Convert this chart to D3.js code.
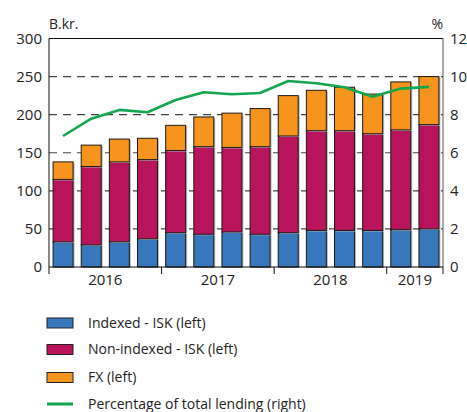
<!DOCTYPE html>
<html>
<head>
<meta charset="utf-8">
<script src="https://cdn.jsdelivr.net/npm/d3@7"></script>
<style>
  body { margin: 0; background: #fff; }
  text { font-family: "Open Sans", sans-serif; fill: #222; }
</style>
</head>
<body>
<div id="chart"></div>
<script>
// quarters 2016Q1 - 2019Q2
const quarters = ["2016Q1","2016Q2","2016Q3","2016Q4","2017Q1","2017Q2","2017Q3","2017Q4",
                  "2018Q1","2018Q2","2018Q3","2018Q4","2019Q1","2019Q2"]
const years = ["2016", "2017", "2018", "2019"]

// stacked values, b.kr.
const indexed    = [33, 29, 33, 37, 45, 43, 46, 43, 45, 48, 48, 48, 49, 50]
const nonIndexed = [82, 103, 105, 104, 108, 115, 111, 115, 127, 131, 131, 127, 131, 137]
const fx         = [23, 28, 30, 28, 33, 39, 45, 50, 53, 53, 57, 52, 63, 63]

// % of total lending, right axis
const pct = [6.88, 7.79, 8.25, 8.13, 8.77, 9.18, 9.07, 9.14, 9.77, 9.65, 9.44, 8.94, 9.37, 9.46]

const leftTicks = [0, 50, 100, 150, 200, 250, 300]
const rightTicks = [0, 2, 4, 6, 8, 10, 12]

const series = [
    { key: "indexed", label: "Indexed - ISK (left)", color: "#3777bc", values: indexed },
    { key: "nonIndexed", label: "Non-indexed - ISK (left)", color: "#b8135b", values: nonIndexed },
    { key: "fx", label: "FX (left)", color: "#f7941e", values: fx }
]
const lineLabel = "Percentage of total lending (right)"
const lineColor = "#12a64e"

const W = 467, H = 412
const margin = { top: 38.5, right: 24, bottom: 145, left: 49 }
const width = W - margin.left - margin.right
const height = H - margin.top - margin.bottom

const svg = d3.select("#chart").append("svg")
    .attr("width", W).attr("height", H)

const g = svg.append("g").attr("transform", `translate(${margin.left},${margin.top})`)

const x = d3.scaleBand().domain(quarters).range([0, width]).paddingInner(0.29).paddingOuter(0.145)
const yL = d3.scaleLinear().domain([0, 300]).range([height, 0])
const yR = d3.scaleLinear().domain([0, 12]).range([height, 0])

// dashed gridlines behind bars
g.append("g").selectAll("line")
    .data(leftTicks.filter(d => d > 0 && d < 300))
    .join("line")
    .attr("x1", 0).attr("x2", width)
    .attr("y1", d => yL(d)).attr("y2", d => yL(d))
    .attr("stroke", "#444").attr("stroke-width", 1.2)
    .attr("stroke-dasharray", "8 6")

// stack it
const rows = quarters.map((q, i) => {
    const r = { q }
    series.forEach(s => r[s.key] = s.values[i])
    return r
})
const stacked = d3.stack().keys(series.map(s => s.key))(rows)

const layers = g.append("g").selectAll("g")
    .data(stacked)
    .join("g")
    .attr("fill", (d, i) => series[i].color)

// soft shadow
layers.selectAll("rect.shadow")
    .data(d => d)
    .join("rect")
    .attr("class", "shadow")
    .attr("x", d => x(d.data.q) + 1.5)
    .attr("y", d => yL(d[1]) + 1)
    .attr("width", x.bandwidth())
    .attr("height", d => yL(d[0]) - yL(d[1]))
    .attr("fill", "#bbb")

layers.selectAll("rect.bar")
    .data(d => d)
    .join("rect")
    .attr("class", "bar")
    .attr("x", d => x(d.data.q))
    .attr("y", d => yL(d[1]))
    .attr("width", x.bandwidth())
    .attr("height", d => yL(d[0]) - yL(d[1]))
    .attr("stroke", "#1a1a1a")
    .attr("stroke-width", 1)

// line
const line = d3.line()
    .x((d, i) => x(quarters[i]) + x.bandwidth() / 2)
    .y(d => yR(d))

g.append("path")
    .datum(pct)
    .attr("fill", "none")
    .attr("stroke", lineColor)
    .attr("stroke-width", 2.6)
    .attr("stroke-linejoin", "round")
    .attr("d", line)

// frame
g.append("line").attr("x1", 0).attr("x2", width).attr("y1", 0).attr("y2", 0).attr("stroke", "#111")
g.append("line").attr("x1", 0).attr("x2", 0).attr("y1", 0).attr("y2", height).attr("stroke", "#111")
g.append("line").attr("x1", width).attr("x2", width).attr("y1", 0).attr("y2", height).attr("stroke", "#555")

// left axis labels
const leftAxis = g.append("g")
    .call(d3.axisLeft(yL).tickValues(leftTicks).tickSize(0).tickPadding(7))
leftAxis.select(".domain").remove()
leftAxis.selectAll("text").style("font-size", "15px").attr("fill", "#222")

const rightAxis = g.append("g")
    .attr("transform", `translate(${width},0)`)
    .call(d3.axisRight(yR).tickValues(rightTicks).tickSize(0).tickPadding(7))
rightAxis.select(".domain").remove()
rightAxis.selectAll("text").style("font-size", "15px").attr("fill", "#222")

// x axis: year separators
const bottom = g.append("g").attr("transform", `translate(0,${height})`)
bottom.append("line").attr("x1", 0).attr("x2", width).attr("stroke", "#111").attr("stroke-width", 1.2)

const yearStart = years.map(yr => quarters.findIndex(q => q.startsWith(yr)))
const step = x.step()
const bounds = yearStart.map(i => i * step).concat([width])

bottom.selectAll("line.tick")
    .data(bounds)
    .join("line")
    .attr("class", "tick")
    .attr("x1", d => d).attr("x2", d => d)
    .attr("y1", 0).attr("y2", 7)
    .attr("stroke", "#111")

bottom.selectAll("text.year")
    .data(years)
    .join("text")
    .attr("class", "year")
    .attr("x", (d, i) => (bounds[i] + bounds[i + 1]) / 2)
    .attr("y", 18)
    .attr("text-anchor", "middle")
    .style("font-size", "15px")
    .text(d => d)

// units
svg.append("text").attr("x", 49).attr("y", 29).style("font-size", "14px").text("B.kr.")
svg.append("text").attr("x", 443).attr("y", 29).attr("text-anchor", "end").style("font-size", "14px").text("%")

// legend
const legend = svg.append("g").attr("transform", "translate(47,0)")
const legendY = [323, 349.5, 377.5, 404]
series.forEach((s, i) => {
    legend.append("rect")
        .attr("x", 0).attr("y", legendY[i] - 5)
        .attr("width", 26).attr("height", 10)
        .attr("fill", s.color).attr("stroke", "#222").attr("stroke-width", 1)
    legend.append("text")
        .attr("x", 41).attr("y", legendY[i])
        .attr("dy", "0.35em")
        .style("font-size", "14px")
        .text(s.label)
})
legend.append("line")
    .attr("x1", 0).attr("x2", 26)
    .attr("y1", legendY[3]).attr("y2", legendY[3])
    .attr("stroke", lineColor).attr("stroke-width", 3)
legend.append("text")
    .attr("x", 41).attr("y", legendY[3])
    .attr("dy", "0.35em")
    .style("font-size", "14px")
    .text(lineLabel)
</script>
</body>
</html>
